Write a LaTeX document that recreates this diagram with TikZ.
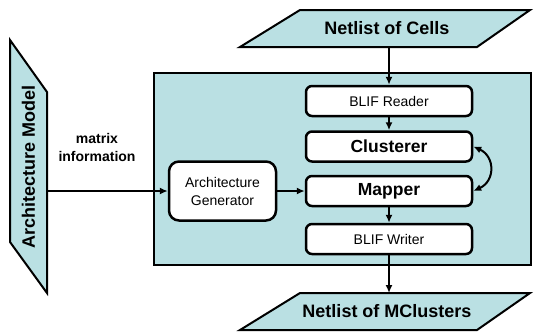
\documentclass[tikz,border=0pt]{standalone}
\usepackage{fontspec}
\setmainfont{Liberation Sans}
\usetikzlibrary{arrows.meta,calc}
\definecolor{panel}{RGB}{186,224,227}

\begin{document}
\begin{tikzpicture}[x=1pt,y=-1pt,
  frame/.style={draw=black,line width=2pt,fill=panel,line join=miter},
  stage/.style={draw=black,line width=2.5pt,fill=white,rounded corners=6pt,
    minimum width=166pt,minimum height=30pt,inner sep=0pt,
    font=\fontsize{14}{16}\selectfont},
  keystage/.style={stage,font=\fontsize{17.5}{20}\selectfont\bfseries},
  io/.style={inner sep=0pt,outer sep=0pt,minimum height=37pt,
    font=\fontsize{18}{20}\selectfont\bfseries},
  tip/.tip={Latex[length=8pt,width=7pt]},
  arr/.style={line width=2pt,-tip},
]
\useasboundingbox (0,0) rectangle (535,333);

% tool panel
\draw[frame,line width=2.5pt] (154,73) rectangle (531,265);

% input / output data shapes
\draw[frame] (300,10) -- (530,10) -- (477,47) -- (240,47) -- cycle;
\draw[frame] (300,293) -- (530,293) -- (477,330) -- (240,330) -- cycle;
\draw[frame] (10,40) -- (47,92) -- (47,293) -- (10,242) -- cycle;

\node[io] (cells) at (387,28.5) {Netlist of Cells};
\node[io] (mclus) at (387,311.5) {Netlist of MClusters};
\node[io,rotate=90,minimum width=200pt] (model) at (28.5,166.75) {Architecture Model};

% processing stages
\node[stage] (reader) at (389,101) {BLIF Reader};
\node[keystage] (clus) at (389,146.5) {Clusterer};
\node[keystage] (mapper) at (389,191) {Mapper};
\node[stage] (writer) at (389,239) {BLIF Writer};
\node[stage,rounded corners=10pt,minimum width=107pt,minimum height=59pt,
  align=center,font=\fontsize{14}{18}\selectfont] (gen) at (222.5,191)
  {Architecture\\Generator};

\node[align=center,font=\fontsize{14}{18}\selectfont\bfseries] (mtx) at (97,147)
  {matrix\\information};

% data flow
\draw[arr] (cells.south -| reader.north) -- (reader.north);
\draw[arr] (reader.south) -- (clus.north);
\draw[arr] (mapper.south) -- (writer.north);
\draw[arr] (writer.south) -- (writer.south |- mclus.north);
\draw[arr] (model.south |- gen.west) -- (gen.west);
\draw[arr] (gen.east) -- (gen.east -| mapper.west);
\draw[line width=2pt,tip-tip] (clus.east) .. controls +(22,10) and +(22,-10) .. (mapper.east);
\end{tikzpicture}
\end{document}
